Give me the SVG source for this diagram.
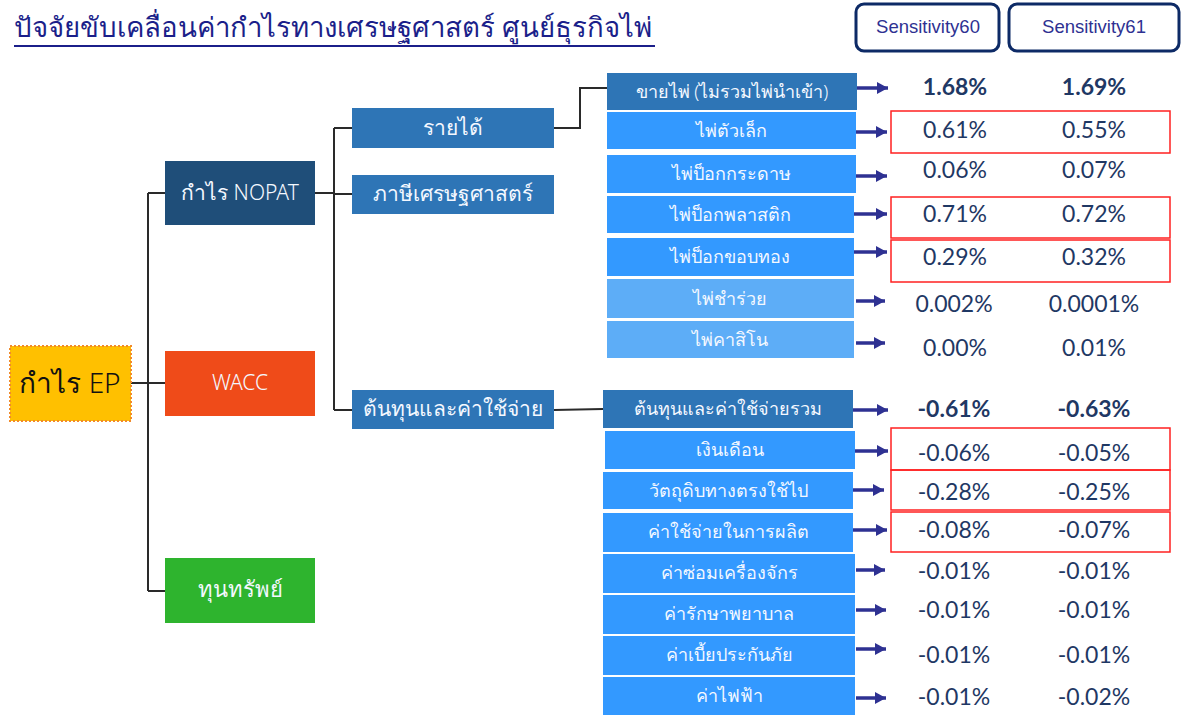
<svg xmlns="http://www.w3.org/2000/svg" width="1181" height="715" viewBox="0 0 1181 715">
  <defs>
    <style>
      .th { font-family: "Noto Sans", "DejaVu Sans", sans-serif; font-weight: 300; }
      .box-text { fill: #F4F8FF; text-anchor: middle; font-size: 18px; }
      .mid-text { fill: #F4F8FF; text-anchor: middle; font-size: 21px; }
      .dark { fill: #2E75B6; }
      .item { fill: #3399FF; }
      .light { fill: #5DADF7; }
      .wire { fill: none; stroke: #2a2a2a; stroke-width: 2; }
      .arrow { stroke: #2E3192; stroke-width: 3.5; marker-end: url(#head); }
      .val { font-family: "Lato", "Open Sans", sans-serif; font-size: 23px; fill: #1F3864; text-anchor: middle; }
      .bold { font-weight: bold; }
      .hl { fill: none; stroke: #FF2020; stroke-width: 1.5; }
      .hdr { fill: #FFFFFF; stroke: #0D2A66; stroke-width: 3; }
      .hdr-text { font-family: "Liberation Sans", Arial, sans-serif; font-size: 18.5px; fill: #2E3192; text-anchor: middle; }
    </style>
    <marker id="head" markerUnits="userSpaceOnUse" markerWidth="11" markerHeight="12" refX="11" refY="6" orient="auto">
      <path d="M0,0 L11,6 L0,12 Z" fill="#2E3192"/>
    </marker>
  </defs>

  <rect width="1181" height="715" fill="#FFFFFF"/>

  <!-- title -->
  <g id="title">
    <text class="th" x="14" y="37" font-size="27.6" fill="#1B1F8A">ปัจจัยขับเคลื่อนค่ากำไรทางเศรษฐศาสตร์ ศูนย์ธุรกิจไพ่</text>
    <line x1="14" y1="46" x2="655" y2="46" stroke="#1B1F8A" stroke-width="2"/>
  </g>

  <!-- column headers -->
  <g id="header-60">
    <rect class="hdr" x="856" y="4" width="143" height="47" rx="8"/>
    <text class="hdr-text" x="928" y="33">Sensitivity60</text>
  </g>
  <g id="header-61">
    <rect class="hdr" x="1009" y="4" width="170" height="47" rx="8"/>
    <text class="hdr-text" x="1094" y="33">Sensitivity61</text>
  </g>

  <!-- connectors -->
  <g id="connectors">
    <path class="wire" d="M131,383 H148 M148,193 V591 M148,193 H165 M148,383 H165 M148,591 H165"/>
    <path class="wire" d="M315,193 H334 M334,128 V410 M334,128 H352 M334,194 H352 M334,410 H352"/>
    <path class="wire" d="M554,128 H580 V88 H607"/>
    <path class="wire" d="M554,410 L603,409"/>
    <line class="arrow" x1="857" y1="88" x2="888" y2="88"/>
    <line class="arrow" x1="856" y1="132" x2="887" y2="132"/>
    <line class="arrow" x1="856" y1="176" x2="887" y2="176"/>
    <line class="arrow" x1="854" y1="214" x2="887" y2="214"/>
    <line class="arrow" x1="854" y1="252" x2="887" y2="252"/>
    <line class="arrow" x1="856" y1="301" x2="885" y2="301"/>
    <line class="arrow" x1="856" y1="343" x2="885" y2="343"/>
    <line class="arrow" x1="853" y1="410" x2="888" y2="410"/>
    <line class="arrow" x1="855" y1="451" x2="888" y2="451"/>
    <line class="arrow" x1="853" y1="490" x2="884" y2="490"/>
    <line class="arrow" x1="853" y1="530" x2="887" y2="530"/>
    <line class="arrow" x1="856" y1="570" x2="885" y2="570"/>
    <line class="arrow" x1="856" y1="610" x2="886" y2="610"/>
    <line class="arrow" x1="856" y1="649" x2="886" y2="649"/>
    <line class="arrow" x1="856" y1="698" x2="886" y2="698"/>
  </g>

  <!-- root and first level -->
  <g id="ep">
    <rect x="10" y="346" width="121" height="75" fill="#FFC000" stroke="#F08A2C" stroke-width="2" stroke-dasharray="2 2"/>
    <text class="th" x="70" y="393" font-size="28" fill="#111111" text-anchor="middle">กำไร EP</text>
  </g>
  <g id="nopat">
    <rect x="165" y="161" width="150" height="64" fill="#1F4E79"/>
    <text class="th" x="240" y="200" font-size="21" fill="#F4F8FF" text-anchor="middle">กำไร NOPAT</text>
  </g>
  <g id="wacc">
    <rect x="165" y="351" width="150" height="65" fill="#EF4B19"/>
    <text class="th" x="240" y="390" font-size="21" fill="#F4F8FF" text-anchor="middle">WACC</text>
  </g>
  <g id="capital">
    <rect x="165" y="558" width="150" height="65" fill="#2EB42E"/>
    <text class="th" x="240" y="597" font-size="22" fill="#F4F8FF" text-anchor="middle">ทุนทรัพย์</text>
  </g>

  <!-- second level -->
  <g id="revenue">
    <rect class="dark" x="352" y="108" width="202" height="40"/>
    <text class="th mid-text" x="453" y="135">รายได้</text>
  </g>
  <g id="economic-tax">
    <rect class="dark" x="352" y="175" width="202" height="39"/>
    <text class="th mid-text" x="453" y="201">ภาษีเศรษฐศาสตร์</text>
  </g>
  <g id="cost">
    <rect class="dark" x="352" y="390" width="202" height="39"/>
    <text class="th mid-text" x="453" y="416">ต้นทุนและค่าใช้จ่าย</text>
  </g>

  <!-- revenue items -->
  <g id="sales">
    <rect class="dark" x="607" y="73" width="250" height="37"/>
    <text class="th box-text" x="732" y="98">ขายไพ่ (ไม่รวมไพ่นำเข้า)</text>
  </g>
  <g id="small-cards">
    <rect class="item" x="607" y="112" width="249" height="37"/>
    <text class="th box-text" x="731" y="137">ไพ่ตัวเล็ก</text>
  </g>
  <g id="paper-cards">
    <rect class="item" x="607" y="155" width="249" height="38"/>
    <text class="th box-text" x="731" y="180">ไพ่ป็อกกระดาษ</text>
  </g>
  <g id="plastic-cards">
    <rect class="item" x="607" y="196" width="247" height="37"/>
    <text class="th box-text" x="730" y="221">ไพ่ป็อกพลาสติก</text>
  </g>
  <g id="gold-edge-cards">
    <rect class="item" x="607" y="238" width="247" height="38"/>
    <text class="th box-text" x="730" y="263">ไพ่ป็อกขอบทอง</text>
  </g>
  <g id="souvenir-cards">
    <rect class="light" x="607" y="279" width="247" height="39"/>
    <text class="th box-text" x="730" y="305">ไพ่ชำร่วย</text>
  </g>
  <g id="casino-cards">
    <rect class="light" x="607" y="321" width="247" height="37"/>
    <text class="th box-text" x="730" y="346">ไพ่คาสิโน</text>
  </g>

  <!-- cost items -->
  <g id="total-cost">
    <rect class="dark" x="603" y="390" width="250" height="38"/>
    <text class="th box-text" x="728" y="415">ต้นทุนและค่าใช้จ่ายรวม</text>
  </g>
  <g id="salary">
    <rect class="item" x="605" y="431" width="250" height="38"/>
    <text class="th box-text" x="730" y="456">เงินเดือน</text>
  </g>
  <g id="direct-material">
    <rect class="item" x="603" y="472" width="250" height="37"/>
    <text class="th box-text" x="728" y="497">วัตถุดิบทางตรงใช้ไป</text>
  </g>
  <g id="production-expense">
    <rect class="item" x="603" y="513" width="250" height="39"/>
    <text class="th box-text" x="728" y="538">ค่าใช้จ่ายในการผลิต</text>
  </g>
  <g id="machine-repair">
    <rect class="item" x="603" y="554" width="252" height="39"/>
    <text class="th box-text" x="729" y="579">ค่าซ่อมเครื่องจักร</text>
  </g>
  <g id="medical">
    <rect class="item" x="603" y="595" width="252" height="39"/>
    <text class="th box-text" x="729" y="620">ค่ารักษาพยาบาล</text>
  </g>
  <g id="insurance">
    <rect class="item" x="603" y="636" width="252" height="39"/>
    <text class="th box-text" x="729" y="661">ค่าเบี้ยประกันภัย</text>
  </g>
  <g id="electricity">
    <rect class="item" x="603" y="677" width="252" height="38"/>
    <text class="th box-text" x="729" y="702">ค่าไฟฟ้า</text>
  </g>

  <!-- highlighted rows -->
  <g id="highlights">
    <rect class="hl" x="891" y="111" width="279" height="42"/>
    <rect class="hl" x="891" y="197" width="279" height="41"/>
    <rect class="hl" x="891" y="240" width="279" height="42"/>
    <rect class="hl" x="891" y="428" width="279" height="42"/>
    <rect class="hl" x="891" y="470" width="279" height="40"/>
    <rect class="hl" x="891" y="512" width="279" height="40"/>
  </g>

  <!-- sensitivity values -->
  <g id="values">
    <text class="val bold" x="955" y="95">1.68%</text>
    <text class="val bold" x="1094" y="95">1.69%</text>
    <text class="val" x="955" y="138">0.61%</text>
    <text class="val" x="1094" y="138">0.55%</text>
    <text class="val" x="955" y="178">0.06%</text>
    <text class="val" x="1094" y="178">0.07%</text>
    <text class="val" x="955" y="222">0.71%</text>
    <text class="val" x="1094" y="222">0.72%</text>
    <text class="val" x="955" y="265">0.29%</text>
    <text class="val" x="1094" y="265">0.32%</text>
    <text class="val" x="954" y="312">0.002%</text>
    <text class="val" x="1094" y="312">0.0001%</text>
    <text class="val" x="955" y="356">0.00%</text>
    <text class="val" x="1094" y="356">0.01%</text>
    <text class="val bold" x="954" y="417">-0.61%</text>
    <text class="val bold" x="1094" y="417">-0.63%</text>
    <text class="val" x="954" y="461">-0.06%</text>
    <text class="val" x="1094" y="461">-0.05%</text>
    <text class="val" x="954" y="500">-0.28%</text>
    <text class="val" x="1094" y="500">-0.25%</text>
    <text class="val" x="954" y="538">-0.08%</text>
    <text class="val" x="1094" y="538">-0.07%</text>
    <text class="val" x="954" y="579">-0.01%</text>
    <text class="val" x="1094" y="579">-0.01%</text>
    <text class="val" x="954" y="618">-0.01%</text>
    <text class="val" x="1094" y="618">-0.01%</text>
    <text class="val" x="954" y="663">-0.01%</text>
    <text class="val" x="1094" y="663">-0.01%</text>
    <text class="val" x="954" y="705">-0.01%</text>
    <text class="val" x="1094" y="705">-0.02%</text>
  </g>
</svg>
